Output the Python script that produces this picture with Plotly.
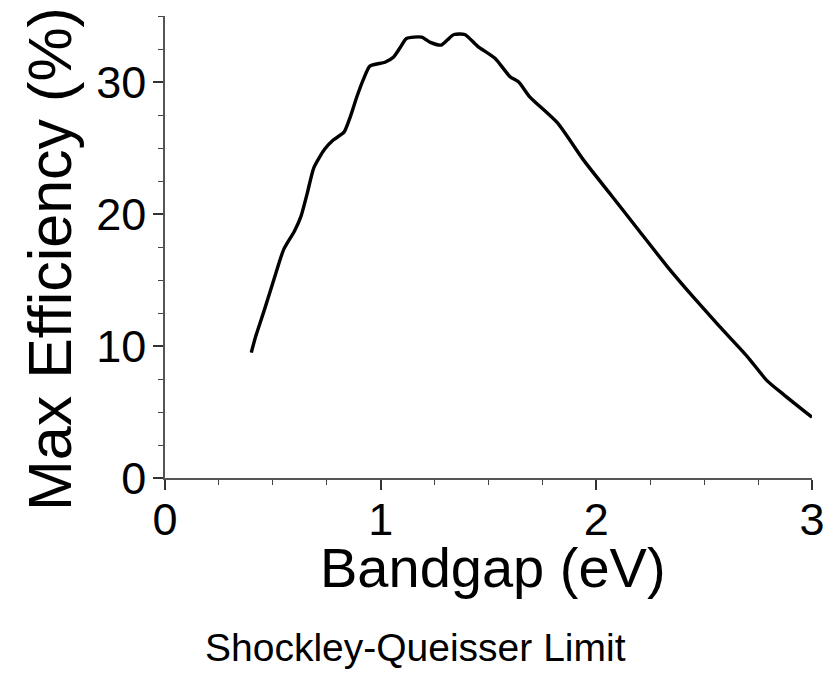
import plotly.graph_objects as go

# Data
bandgap_ev = [0.40, 0.42, 0.46, 0.51, 0.55, 0.60, 0.63, 0.66, 0.69, 0.74, 0.78,
              0.83, 0.86, 0.89, 0.92, 0.95, 1.02, 1.06, 1.09, 1.12, 1.19, 1.23,
              1.28, 1.31, 1.34, 1.39, 1.45, 1.53, 1.60, 1.64, 1.69, 1.82, 1.94,
              2.07, 2.19, 2.33, 2.45, 2.57, 2.70, 2.79, 2.87, 3.00]
max_efficiency = [9.5, 10.7, 12.7, 15.3, 17.3, 18.7, 19.8, 21.6, 23.5, 24.9, 25.6,
                  26.2, 27.4, 28.9, 30.2, 31.2, 31.5, 31.9, 32.6, 33.3, 33.4, 33.0,
                  32.8, 33.2, 33.6, 33.6, 32.7, 31.8, 30.4, 30.0, 28.9, 26.9, 24.1,
                  21.4, 18.9, 16.0, 13.7, 11.5, 9.2, 7.4, 6.3, 4.6]

x_title = "Bandgap (eV)"
y_title = "Max Efficiency (%)"
caption = "Shockley-Queisser Limit"

FONT = "Liberation Sans, Arial, sans-serif"

fig = go.Figure()
fig.add_trace(go.Scatter(
    x=bandgap_ev, y=max_efficiency, mode="lines",
    line=dict(color="black", width=3.4, shape="spline", smoothing=0.6),
    showlegend=False, hoverinfo="skip", cliponaxis=False,
))

W, H = 828, 684
L, R, T, B = 165, 16, 16, 206
pw, ph = W - L - R, H - T - B

def px_x(px):
    return (px - L) / pw

def px_y(py):
    return (H - B - py) / ph

axis_common = dict(
    showgrid=False, zeroline=False, showline=True, automargin=False,
    ticklabeloverflow="allow",
    linecolor="#555555", linewidth=1.6,
    ticks="outside", ticklen=10, tickwidth=1.6, tickcolor="#333333",
    tickfont=dict(family=FONT, size=45, color="black"),
)

fig.update_layout(
    width=W, height=H,
    margin=dict(l=L, r=R, t=T, b=B, pad=0),
    paper_bgcolor="white", plot_bgcolor="white",
    xaxis=dict(range=[0, 3], dtick=1, tick0=0, ticklabelstandoff=-9,
               minor=dict(dtick=0.25, ticks="outside", ticklen=5,
                          tickwidth=1.4, tickcolor="#444444", showgrid=False),
               **axis_common),
    yaxis=dict(range=[0, 35], dtick=10, tick0=0, ticklabelstandoff=-2,
               minor=dict(dtick=2.5, ticks="outside", ticklen=5,
                          tickwidth=1.4, tickcolor="#444444", showgrid=False),
               **axis_common),
    annotations=[
        dict(text=x_title, xref="paper", yref="paper",
             x=px_x(493), y=px_y(567), xanchor="center", yanchor="middle",
             showarrow=False, font=dict(family=FONT, size=56, color="black")),
        dict(text=y_title, xref="paper", yref="paper", textangle=-90,
             x=px_x(50), y=px_y(259), xanchor="center", yanchor="middle",
             showarrow=False, font=dict(family=FONT, size=61, color="black")),
        dict(text=caption, xref="paper", yref="paper",
             x=px_x(415), y=px_y(647), xanchor="center", yanchor="middle",
             showarrow=False, font=dict(family=FONT, size=39, color="black")),
    ],
)

fig.write_html(
    "out.html",
    config={"displayModeBar": False},
    post_script="document.body.style.margin='0';document.body.style.overflow='hidden';",
)
